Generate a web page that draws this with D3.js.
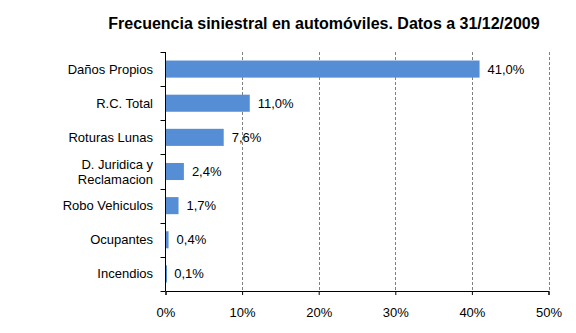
<!DOCTYPE html>
<html><head><meta charset="utf-8">
<script src="https://cdn.jsdelivr.net/npm/d3@7"></script>
<style>body{margin:0;background:#fff}svg{display:block}</style>
</head><body>
<script>
const categories = ["Daños Propios", "R.C. Total", "Roturas Lunas", "D. Juridica y\nReclamacion", "Robo Vehiculos", "Ocupantes", "Incendios"];
const values = [41.0, 11.0, 7.6, 2.4, 1.7, 0.4, 0.1];
const tickValues = [0, 10, 20, 30, 40, 50];
const title = "Frecuencia siniestral  en automóviles. Datos a 31/12/2009";

const FONT = "'Liberation Sans', Arial, sans-serif";
const W = 576, H = 333;
const m = {left: 165.5, right: 27.5, top: 52, bottom: 42};
const svg = d3.select("body").append("svg").attr("width", W).attr("height", H)
  .style("font-family", FONT);

const x = d3.scaleLinear().domain([0, 50]).range([m.left, W - m.right]);
const y = d3.scaleBand().domain(categories).range([m.top, H - m.bottom]).paddingInner(0.5).paddingOuter(0.25);

svg.append("text").attr("x", 324).attr("y", 29).attr("text-anchor", "middle")
  .attr("font-size", 16).attr("font-weight", "bold").attr("fill", "#000").text(title);

// gridlines
svg.append("g").selectAll("line").data(tickValues.filter(d => d > 0)).join("line")
  .attr("x1", d => Math.round(x(d)) + 0.5).attr("x2", d => Math.round(x(d)) + 0.5)
  .attr("y1", m.top).attr("y2", H - m.bottom)
  .attr("stroke", "#808080").attr("stroke-dasharray", "3,2").attr("stroke-width", 1);

// bars
svg.append("g").selectAll("rect").data(values).join("rect")
  .attr("x", x(0)).attr("y", (d, i) => y(categories[i]))
  .attr("width", d => Math.max(1.5, x(d) - x(0))).attr("height", y.bandwidth())
  .attr("fill", "#558ED5");

// value labels
svg.append("g").selectAll("text").data(values).join("text")
  .attr("x", d => x(d) + 8).attr("y", (d, i) => y(categories[i]) + y.bandwidth() / 2)
  .attr("dy", "0.35em").attr("font-size", 13).attr("fill", "#000")
  .text(d => d.toFixed(1).replace(".", ",") + "%");

// x axis
const xa = svg.append("g").attr("transform", `translate(0,${H - m.bottom})`)
  .call(d3.axisBottom(x).tickValues(tickValues).tickSize(4).tickPadding(13).tickFormat(d => d + "%"));
xa.select(".domain").attr("stroke", "#000");
xa.selectAll(".tick line").attr("stroke", "#000");
xa.selectAll("text").attr("font-size", 13).attr("fill", "#000").style("font-family", FONT);

// y axis line and ticks between categories
const yb = d3.scaleLinear().domain([0, categories.length]).range([m.top, H - m.bottom]);
svg.append("line").attr("x1", x(0)).attr("x2", x(0)).attr("y1", m.top).attr("y2", H - m.bottom).attr("stroke", "#000");
svg.append("g").selectAll("line").data(d3.range(categories.length + 1)).join("line")
  .attr("x1", x(0) - 5).attr("x2", x(0)).attr("y1", d => Math.round(yb(d)) + 0.5).attr("y2", d => Math.round(yb(d)) + 0.5)
  .attr("stroke", "#000");

// category labels
const cl = svg.append("g").selectAll("text").data(categories).join("text")
  .attr("text-anchor", "end").attr("font-size", 13).attr("fill", "#000")
  .attr("transform", d => `translate(153,${y(d) + y.bandwidth() / 2})`);
cl.each(function(d) {
  const lines = d.split("\n");
  const t = d3.select(this);
  lines.forEach((ln, i) => {
    t.append("tspan").attr("x", 0).attr("y", (i - (lines.length - 1) / 2) * 15).attr("dy", "0.35em").text(ln);
  });
});
</script>
</body></html>
